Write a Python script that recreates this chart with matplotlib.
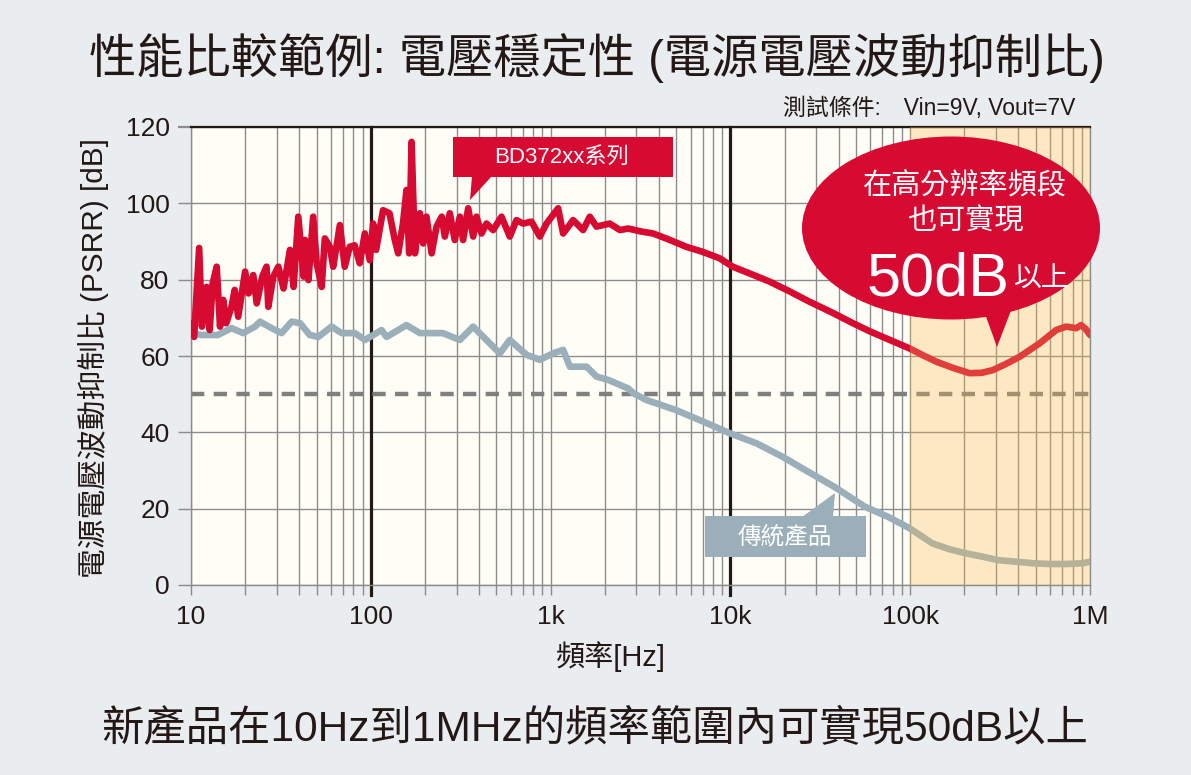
import matplotlib
matplotlib.use("Agg")
import matplotlib.pyplot as plt
from matplotlib.patches import Rectangle, Ellipse, Polygon
from matplotlib.ticker import FixedLocator, LogLocator, NullFormatter, FixedFormatter

plt.rcParams['font.family'] = ['Liberation Sans', 'Noto Sans CJK TC', 'DejaVu Sans']

# ---------------- data ----------------
red_freq = [10.0, 10.4, 11.1, 11.5, 12.2, 12.7, 13.2, 13.9, 14.5, 15.1, 15.7, 16.8, 17.5, 18.3,
            20.0, 20.9, 22.2, 23.2, 24.9, 26.3, 26.9, 28.7, 30.6, 32.7, 35.5, 37.2, 39.5, 42.3,
            43.1, 45.0, 47.8, 50.0, 53.3, 55.5, 59.2, 61.8, 67.3, 71.6, 76.3, 81.3, 86.8, 92.6,
            98.7, 103, 107, 117, 127, 136, 142, 151, 158, 163.5, 168.6, 176, 187.5, 195.5, 204,
            218, 232, 248, 258, 275, 293, 313, 326, 348, 371, 387, 413, 440, 479, 533, 593, 646,
            703, 783, 871, 949, 1101, 1174, 1334, 1516, 1652, 1800, 2133, 2430, 2700,
            3200, 3720, 4500, 5690, 7000, 8710, 10300, 13000, 16500, 21000, 27600, 36000, 48000,
            60000, 73600, 99000, 120000, 140000, 175000, 214000, 250000, 288000, 340000, 406000,
            524000, 648000, 737000, 838000, 893000, 950000, 1000000]
red_db = [68.6, 65.0, 88.3, 67.7, 78.1, 66.8, 79.0, 83.4, 67.7, 74.7, 68.6, 72.9, 77.3, 70.3,
          82.1, 76.4, 81.2, 73.8, 80.8, 83.4, 72.9, 80.8, 83.4, 77.7, 87.8, 78.1, 96.5, 80.8,
          90.4, 79.9, 96.5, 84.3, 78.1, 90.8, 88.6, 83.4, 94.3, 83.4, 88.6, 89.0, 84.3, 92.1,
          85.1, 94.7, 87.8, 98.2, 97.4, 90.4, 86.9, 94.7, 103.5, 86.9, 116.1, 86.9, 97.4, 89.5, 96.5,
          86.9, 93.9, 96.5, 91.3, 97.4, 90.4, 96.5, 90.4, 98.7, 91.3, 96.5, 92.1, 94.7, 93.0, 96.5, 91.3, 95.6,
          94.7, 95.2, 91.3, 94.7, 98.7, 92.1, 95.6, 93.0, 96.5, 93.9, 94.7, 93.0, 93.4,
          92.6, 92.1, 90.6, 88.6, 87.3, 85.6, 83.4, 81.5, 79.5, 77.1, 74.2, 71.6, 68.6,
          66.4, 64.6, 62.0, 60.0, 58.5, 56.8, 55.5, 55.6, 56.3, 57.9, 59.8,
          63.3, 66.8, 67.7, 67.3, 68.1, 67.0, 65.5]

grey_freq = [10, 11.5, 14.1, 16.8, 19.5, 22.7, 24.2, 28.1, 31.9, 36.3, 40.4, 45.8, 51, 60.5,
             68.8, 81.6, 92.7, 114.8, 122.4, 158, 187.5, 251.6, 312.7, 370.8, 440, 522, 593,
             735, 871, 1033, 1174, 1280, 1585, 1800, 2100, 2700, 2900, 3400, 5000, 7400, 10000,
             14000, 19500, 27000, 37600, 56000, 75000, 99000, 113000, 133000, 166000, 204000,
             254000, 310000, 389000, 482000, 590000, 738000, 912000, 1000000]
grey_db = [66.0, 65.5, 65.5, 67.3, 66.0, 67.7, 69.0, 67.3, 66.0, 69.0, 68.6, 65.5, 65.0, 67.7,
           66.0, 66.0, 64.2, 66.8, 65.0, 68.1, 66.0, 66.0, 64.2, 67.7, 64.2, 60.7, 64.2,
           60.3, 59.0, 60.7, 61.6, 57.2, 57.2, 54.6, 53.7, 51.5, 50.2, 48.5, 45.8, 42.4, 39.7,
           37.1, 33.6, 29.7, 25.8, 20.5, 17.9, 14.9, 13.1, 10.9, 9.35, 8.3,
           7.4, 6.5, 6.1, 5.7, 5.5, 5.5, 5.7, 6.1]

threshold_db = 50
highlight_band = [1e5, 1e6]
decade_markers = [100, 10000]
x_ticks = [10, 100, 1000, 10000, 100000, 1000000]
x_ticklabels = ['10', '100', '1k', '10k', '100k', '1M']
y_ticks = [0, 20, 40, 60, 80, 100, 120]

title = '性能比較範例: 電壓穩定性 (電源電壓波動抑制比)'
condition = '測試條件:　Vin=9V, Vout=7V'
ylabel = '電源電壓波動抑制比 (PSRR) [dB]'
xlabel = '頻率[Hz]'
caption = '新產品在10Hz到1MHz的頻率範圍內可實現50dB以上'
label_new = 'BD372xx系列'
label_old = '傳統產品'
bubble_l1 = '在高分辨率頻段'
bubble_l2 = '也可實現'
bubble_big = '50dB'
bubble_small = '以上'

# ---------------- style ----------------
W, H = 1191, 775
TXT = '#231815'
RED = '#d70a32'
GREY = '#9aafb9'
GRID = '#8c8c8c'

def fx(px):
    return px / W

def fy(py):
    return 1 - py / H

fig = plt.figure(figsize=(W / 100, H / 100), dpi=100, facecolor='#e9edf0')
ax = fig.add_axes([fx(191), fy(585), fx(1090) - fx(191), fy(127) - fy(585)])
ax.set_facecolor('#fffef6')
ax.set_xscale('log')
ax.set_xlim(10, 1e6)
ax.set_ylim(0, 120)

ax.xaxis.set_major_locator(FixedLocator(x_ticks))
ax.xaxis.set_major_formatter(FixedFormatter(x_ticklabels))
ax.xaxis.set_minor_locator(LogLocator(base=10, subs=[2, 3, 4, 5, 6, 7, 8, 9], numticks=20))
ax.xaxis.set_minor_formatter(NullFormatter())
ax.yaxis.set_major_locator(FixedLocator(y_ticks))

ax.tick_params(axis='x', which='both', direction='out', length=7.2, width=1.0, color=GRID,
               labelsize=19, labelcolor=TXT, pad=7)
ax.tick_params(axis='y', which='major', direction='out', length=9.4, width=1.0, color=GRID,
               labelsize=19, labelcolor=TXT, pad=6)

ax.set_axisbelow(True)
ax.grid(axis='x', which='both', color=GRID, lw=1.0)
ax.grid(axis='y', which='major', color=GRID, lw=1.0)

for s in ['left', 'right', 'bottom']:
    ax.spines[s].set_color(GRID)
    ax.spines[s].set_linewidth(1.0)
ax.spines['top'].set_color(TXT)
ax.spines['top'].set_linewidth(1.6)
top_tick = ax.yaxis.get_major_ticks()[-1]
top_tick.tick1line.set_color(TXT)
top_tick.tick1line.set_markeredgewidth(1.6)

for xm in decade_markers:
    ax.axvline(xm, ymin=-0.022, ymax=1, color=TXT, lw=2.3, clip_on=False, zorder=1.2)
for t in ax.xaxis.get_major_ticks():
    if t.get_loc() in decade_markers:
        t.tick1line.set_color(TXT)
        t.tick1line.set_markeredgewidth(2.3)

ax.axhline(threshold_db, color='#7f7f7f', lw=3.2, linestyle=(0, (3.0, 2.1)), zorder=2)
ax.plot(grey_freq, grey_db, color=GREY, lw=4.8, solid_joinstyle='round',
        solid_capstyle='round', zorder=3)
ax.plot(red_freq, red_db, color=RED, lw=4.8, solid_joinstyle='round',
        solid_capstyle='round', zorder=3.5)

ax.axvspan(highlight_band[0], highlight_band[1], facecolor='#f7b94f', alpha=0.3, lw=0, zorder=4)

# ---------------- texts ----------------
fig.text(fx(597), fy(58), title, ha='center', va='center', fontsize=34, color=TXT)
fig.text(fx(1075), fy(108), condition, ha='right', va='center', fontsize=16.5, color=TXT)
fig.text(fx(93), fy(358), ylabel, ha='center', va='center', rotation=90, fontsize=21.4, color=TXT)
fig.text(fx(611), fy(657), xlabel, ha='center', va='center', fontsize=21, color=TXT)
fig.text(fx(595), fy(729), caption, ha='center', va='center', fontsize=30.5, color=TXT)

# callout: new product
fig.add_artist(Rectangle((fx(453), fy(177)), fx(673) - fx(453), fy(137) - fy(177),
                         transform=fig.transFigure, facecolor=RED, edgecolor='none'))
fig.add_artist(Polygon([(fx(472), fy(176)), (fx(492), fy(176)), (fx(470), fy(200))],
                       closed=True, transform=fig.transFigure, facecolor=RED, edgecolor='none'))
fig.text(fx(562), fy(157), label_new, ha='center', va='center', fontsize=16, color='white')

# callout: conventional product
fig.add_artist(Rectangle((fx(705), fy(557)), fx(866) - fx(705), fy(516) - fy(557),
                         transform=fig.transFigure, facecolor=GREY, edgecolor='none'))
fig.add_artist(Polygon([(fx(802), fy(517)), (fx(833), fy(517)), (fx(835), fy(493))],
                       closed=True, transform=fig.transFigure, facecolor=GREY, edgecolor='none'))
fig.text(fx(785), fy(537), label_old, ha='center', va='center', fontsize=17, color='white')

# bubble
fig.add_artist(Ellipse((fx(951), fy(228)), fx(298), 183 / H, transform=fig.transFigure,
                       facecolor=RED, edgecolor='none'))
fig.add_artist(Polygon([(fx(980), fy(300)), (fx(1015), fy(300)), (fx(997), fy(347))],
                       closed=True, transform=fig.transFigure, facecolor=RED, edgecolor='none'))
fig.text(fx(965), fy(185), bubble_l1, ha='center', va='center', fontsize=21, color='white')
fig.text(fx(965), fy(222), bubble_l2, ha='center', va='center', fontsize=21, color='white')
fig.text(fx(1010), fy(295), bubble_big, ha='right', va='baseline', fontsize=44, color='white')
fig.text(fx(1014), fy(287), bubble_small, ha='left', va='baseline', fontsize=20, color='white')

fig.savefig('out.png', dpi=100, facecolor=fig.get_facecolor())
